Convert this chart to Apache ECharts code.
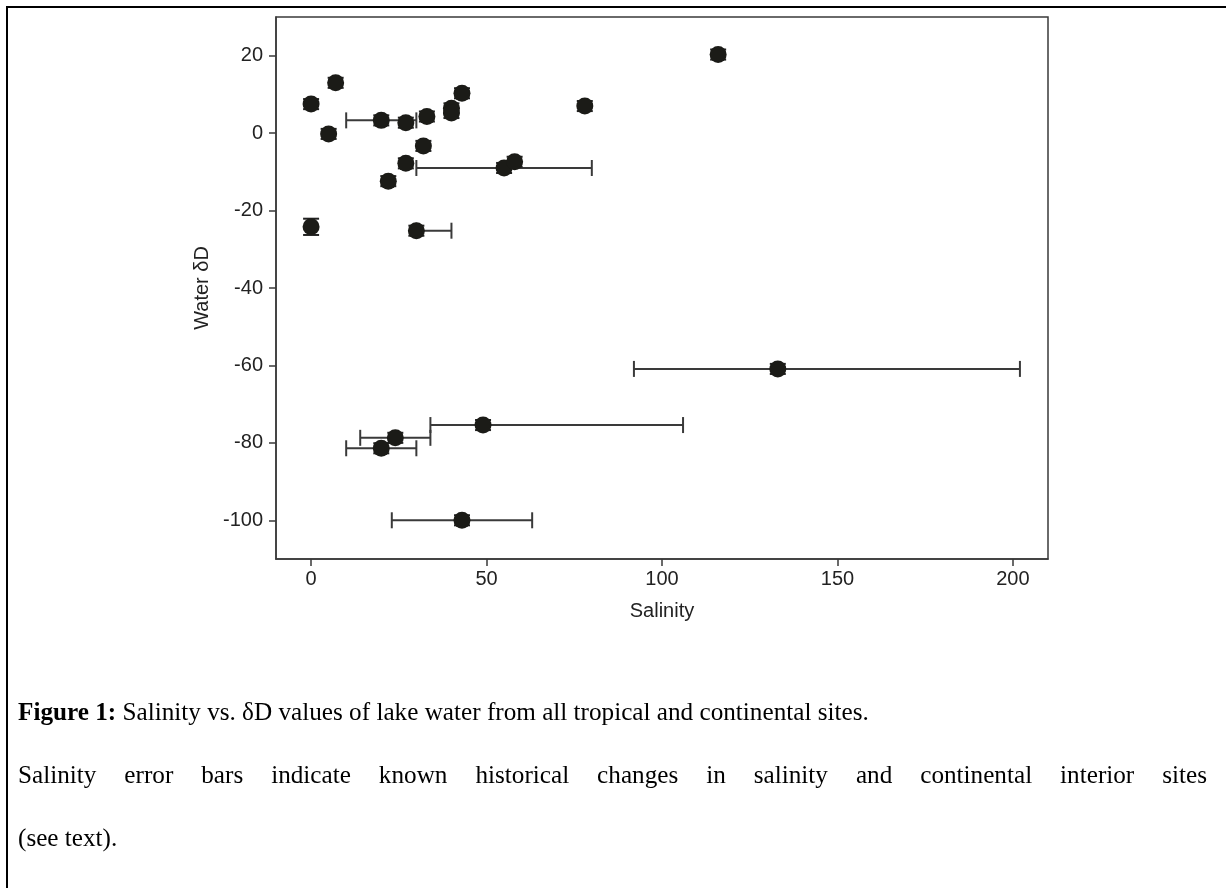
<!DOCTYPE html>
<html>
<head>
<meta charset="utf-8">
<script src="https://cdn.jsdelivr.net/npm/echarts@6/dist/echarts.min.js"></script>
<style>
  html, body { margin: 0; padding: 0; background: #fff; }
  #wrap { position: relative; width: 1226px; height: 888px; overflow: hidden; background: #fff; }
  #frame { position: absolute; left: 6px; top: 6px; width: 1400px; height: 1000px; border: 2px solid #000; box-sizing: border-box; }
  #chart { position: absolute; left: 0; top: 0; width: 1226px; height: 888px; }
  .cap { position: absolute; left: 18px; font-family: "Liberation Serif", "Times New Roman", serif; font-size: 25.2px; color: #000; white-space: nowrap; line-height: 30px; }
  #l1 { top: 697px; }
  #l2 { top: 760px; width: 1189px; white-space: normal; text-align: justify; text-align-last: justify; }
  #l3 { top: 823px; }
</style>
</head>
<body>
<div id="wrap">
  <div id="frame"></div>
  <div id="chart"></div>
  <div class="cap" id="l1"><b>Figure 1:</b> Salinity vs. δD values of lake water from all tropical and continental sites.</div>
  <div class="cap" id="l2">Salinity error bars indicate known historical changes in salinity and continental interior sites</div>
  <div class="cap" id="l3">(see text).</div>
</div>
<script>
// ---- data ----
const salinity    = [0, 7, 5, 20, 27, 33, 40, 40, 43, 78, 116, 32, 27, 22, 55, 58, 0, 30, 49, 24, 20, 43, 133];
const waterDD     = [7.5, 13, -0.2, 3.3, 2.7, 4.3, 6.4, 5.2, 10.3, 7, 20.3, -3.3, -7.8, -12.4, -9, -7.4, -24.2, -25.2, -75.4, -78.7, -81.4, -100, -60.9];
const salinityLow = [null, null, null, 10, null, null, null, null, null, null, null, null, null, null, 30, null, null, 30, 34, 14, 10, 23, 92];
const salinityHigh= [null, null, null, 30, null, null, null, null, null, null, null, null, null, null, 80, null, null, 40, 106, 34, 30, 63, 202];
const deltaDErr   = [1.3, 1.3, 1.3, 1.3, 1.3, 1.3, 1.3, 1.3, 1.3, 1.3, 1.3, 1.3, 1.3, 1.3, 1.3, 1.3, 2.1, 1.3, 1.3, 1.3, 1.3, 1.3, 1.3];
const xTicks = [0, 50, 100, 150, 200];
const yTicks = [-100, -80, -60, -40, -20, 0, 20];
const xName = 'Salinity';
const yName = 'Water δD';

// ---- build series data ----
const points = salinity.map((x, i) => [x, waterDD[i]]);
const xErrData = [];
salinity.forEach((x, i) => {
  if (salinityLow[i] != null) xErrData.push([salinityLow[i], salinityHigh[i], waterDD[i]]);
});
const yErrData = salinity.map((x, i) => [x, waterDD[i] - deltaDErr[i], waterDD[i] + deltaDErr[i]]);

const lineColor = '#3a3a3a';
const labelFont = { fontFamily: 'Liberation Sans, Arial, sans-serif', fontSize: 20, color: '#222' };

const chart = echarts.init(document.getElementById('chart'), null, { renderer: 'canvas' });
chart.setOption({
  animation: false,
  backgroundColor: 'transparent',
  grid: {
    left: 276, top: 17, right: 178, bottom: 329,
    containLabel: false, outerBoundsMode: 'none',
    show: true, borderColor: lineColor, borderWidth: 1.5, backgroundColor: 'transparent'
  },
  xAxis: {
    type: 'value', min: -10, max: 210,
    name: xName, nameLocation: 'middle', nameGap: 42,
    nameTextStyle: labelFont,
    axisLine: { show: true, onZero: false, lineStyle: { color: lineColor, width: 1.5 } },
    axisTick: { show: true, length: 7, inside: false, customValues: xTicks, lineStyle: { color: lineColor, width: 1.5 } },
    axisLabel: { show: true, customValues: xTicks, margin: 10, ...labelFont },
    splitLine: { show: false }
  },
  yAxis: {
    type: 'value', min: -110, max: 30,
    name: yName, nameLocation: 'middle', nameGap: 62,
    nameTextStyle: labelFont,
    axisLine: { show: true, onZero: false, lineStyle: { color: lineColor, width: 1.5 } },
    axisTick: { show: true, length: 7, inside: false, customValues: yTicks, lineStyle: { color: lineColor, width: 1.5 } },
    axisLabel: { show: true, customValues: yTicks, margin: 13, ...labelFont },
    splitLine: { show: false }
  },
  series: [
    {
      type: 'custom', z: 2,
      encode: { x: [0, 1], y: 2 },
      data: xErrData,
      renderItem: function (params, api) {
        const y = api.value(2);
        const p1 = api.coord([api.value(0), y]);
        const p2 = api.coord([api.value(1), y]);
        const h = 8;
        const style = { stroke: lineColor, lineWidth: 2 };
        return { type: 'group', children: [
          { type: 'line', shape: { x1: p1[0], y1: p1[1], x2: p2[0], y2: p2[1] }, style },
          { type: 'line', shape: { x1: p1[0], y1: p1[1] - h, x2: p1[0], y2: p1[1] + h }, style },
          { type: 'line', shape: { x1: p2[0], y1: p2[1] - h, x2: p2[0], y2: p2[1] + h }, style }
        ]};
      }
    },
    {
      type: 'custom', z: 2,
      encode: { x: 0, y: [1, 2] },
      data: yErrData,
      renderItem: function (params, api) {
        const x = api.value(0);
        const p1 = api.coord([x, api.value(1)]);
        const p2 = api.coord([x, api.value(2)]);
        const w = 8;
        const style = { stroke: '#222', lineWidth: 2 };
        return { type: 'group', children: [
          { type: 'line', shape: { x1: p1[0], y1: p1[1], x2: p2[0], y2: p2[1] }, style },
          { type: 'line', shape: { x1: p1[0] - w, y1: p1[1], x2: p1[0] + w, y2: p1[1] }, style },
          { type: 'line', shape: { x1: p2[0] - w, y1: p2[1], x2: p2[0] + w, y2: p2[1] }, style }
        ]};
      }
    },
    {
      type: 'scatter', z: 3,
      data: points,
      symbol: 'circle', symbolSize: 17,
      itemStyle: { color: '#1b1b17', opacity: 1 }
    }
  ]
});
</script>
</body>
</html>
